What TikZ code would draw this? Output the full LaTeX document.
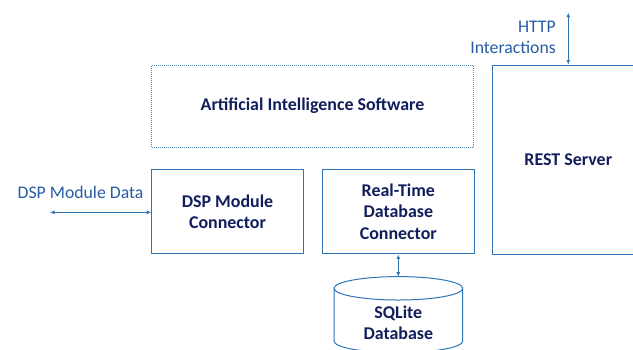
\documentclass[tikz,border=0pt]{standalone}
\usepackage{fontspec}
\setmainfont{Carlito}
\usetikzlibrary{arrows.meta}
\definecolor{edgeblue}{RGB}{46,117,182}
\definecolor{labelblue}{RGB}{38,92,165}
\definecolor{navy}{RGB}{18,30,92}
\tikzset{
  boldtext/.style={font=\fontsize{18}{21.5}\selectfont\bfseries, text=navy},
  block/.style={draw=edgeblue, line width=1bp, fill=white, align=center,
    boldtext, inner sep=0pt},
  dotbox/.style={block, draw=edgeblue!85, line width=1.1bp, dash pattern=on 1bp off 1bp},
  flowlabel/.style={font=\fontsize{17.8}{21.5}\selectfont, text=labelblue, inner sep=0pt},
  link/.style={draw=edgeblue, line width=0.9bp,
    {Latex[length=4.5bp,width=4bp]}-{Latex[length=4.5bp,width=4bp]}}
}
\begin{document}
\begin{tikzpicture}[x=1bp,y=-1bp]
  \useasboundingbox (0,0) rectangle (633,349);
  \clip (0,0) rectangle (633,349);

  % main blocks
  \node[dotbox, minimum width=321.6bp, minimum height=82.3bp] (ai) at (312.5,106.2)
    {Artificial Intelligence Software};
  \node[block, minimum width=151.6bp, minimum height=84.4bp] (dsp) at (227.5,211.5)
    {DSP Module\\Connector};
  \node[block, minimum width=152bp, minimum height=84.7bp] (rtdb) at (398.3,211.6)
    {Real-Time\\Database\\Connector};
  \node[block, minimum width=151.2bp, minimum height=189.3bp] (rest) at (568.3,159.7)
    {REST Server};

  % SQLite store drawn as a cylinder
  \draw[draw=edgeblue, line width=1bp, fill=white]
    (334,288.3) -- (334,341) arc[start angle=180, end angle=360, x radius=64.35bp, y radius=11.7bp]
    -- (462.7,288.3) arc[start angle=0, end angle=-180, x radius=64.35bp, y radius=11.7bp] -- cycle;
  \draw[draw=edgeblue, line width=1bp]
    (334,288.3) arc[start angle=180, end angle=0, x radius=64.35bp, y radius=11.7bp];
  \coordinate (dbtop) at (398.3,276.6);
  \node[boldtext, align=center, inner sep=0pt] (db) at (398.3,322.5) {SQLite\\Database};

  % external interfaces
  \coordinate (dspin) at (50,212.3);
  \coordinate (httpend) at (568.3,12.7);
  \node[flowlabel, anchor=south] (dsplabel) at (80.5,199) {DSP Module Data};
  \node[flowlabel, anchor=east, align=right] (httplabel) at (556,37.5)
    {HTTP\\Interactions};

  % connectors
  \draw[link] (dspin) -- (dspin -| dsp.west);
  \draw[link] (rtdb.south) -- (dbtop);
  \draw[link] (httpend) -- (rest.north);
\end{tikzpicture}
\end{document}
